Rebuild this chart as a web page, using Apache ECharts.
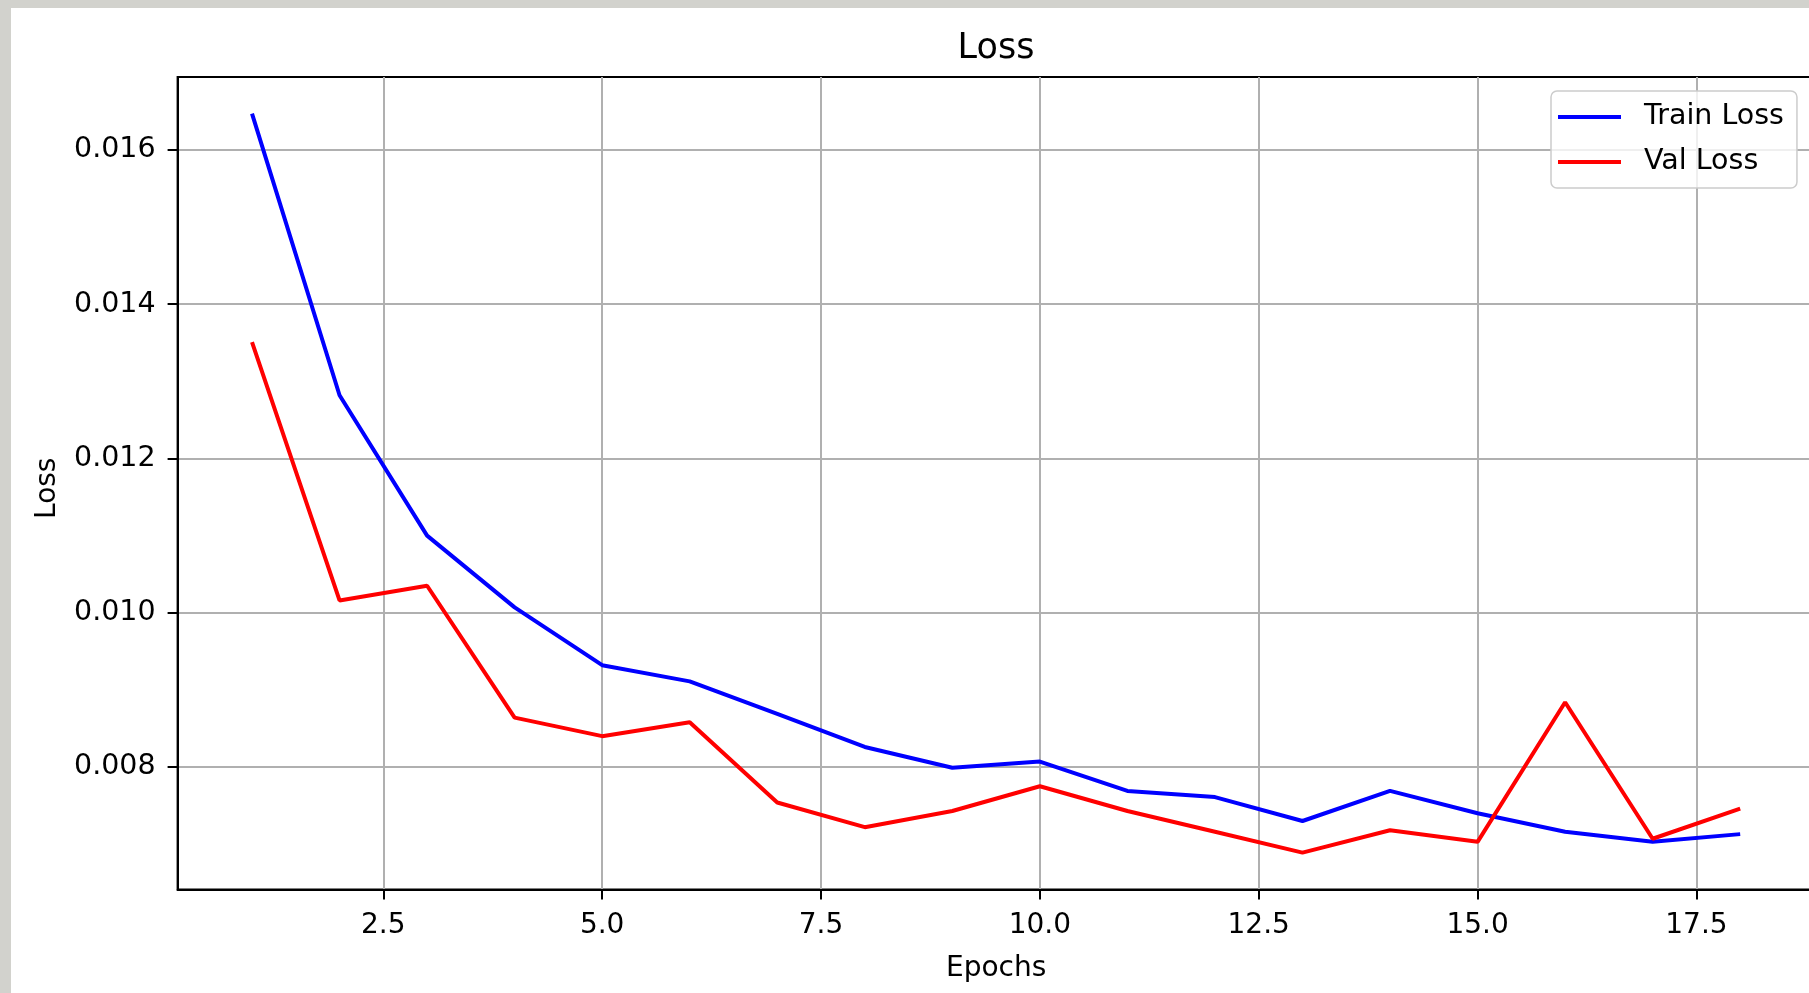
<!DOCTYPE html>
<html>
<head>
<meta charset="utf-8">
<title>Loss</title>
<script src="https://cdn.jsdelivr.net/npm/echarts@6.0.0/dist/echarts.min.js"></script>
<style>
    body { margin: 0; background: #d2d2cd; }
    #loss_chart { position: absolute; left: 11px; top: 8px; width: 1798px; height: 985px; background: #fff; }
</style>
</head>
<body>
<div id="loss_chart"></div>
<script>
var epochs = [1, 2, 3, 4, 5, 6, 7, 8, 9, 10, 11, 12, 13, 14, 15, 16, 17, 18];
var train_loss = [0.01647, 0.01282, 0.01100, 0.01007, 0.00932, 0.00911, 0.00869, 0.00826, 0.00799,
    0.00807, 0.00769, 0.00761, 0.00730, 0.00769, 0.00740, 0.00716, 0.00703, 0.00713];
var val_loss = [0.01351, 0.01016, 0.01035, 0.00864, 0.00840, 0.00858, 0.00754, 0.00722, 0.00743,
    0.00775, 0.00743, 0.00716, 0.00689, 0.00718, 0.00703, 0.00884, 0.00707, 0.00746];
var x_ticks = [2.5, 5.0, 7.5, 10.0, 12.5, 15.0, 17.5];
var y_ticks = [0.008, 0.010, 0.012, 0.014, 0.016];

var font = 'DejaVu Sans';

function pairs(xs, ys) {
    var out = [];
    for (var i = 0; i < xs.length; ++i) out.push([xs[i], ys[i]]);
    return out;
}

var loss_chart_option = {
    animation: false,
    title: {
        text: 'Loss',
        left: 985,
        top: 23,
        padding: 0,
        textAlign: 'center',
        textStyle: { fontFamily: font, fontSize: 35, fontWeight: 'normal', color: '#000' }
    },
    legend: {
        orient: 'vertical',
        left: 1540,
        top: 83,
        padding: [11, 13, 11, 7],
        itemGap: 15,
        itemWidth: 63,
        itemHeight: 4,
        icon: 'rect',
        backgroundColor: 'rgba(255,255,255,0.8)',
        borderColor: '#cccccc',
        borderWidth: 1.5,
        borderRadius: 6,
        textStyle: { fontFamily: font, fontSize: 28.5, lineHeight: 30, color: '#000', padding: [0, 0, 0, 18] },
        data: ['Train Loss', 'Val Loss']
    },
    grid: {
        left: 166.6,
        top: 69,
        width: 1637,
        height: 812.5,
        containLabel: false,
        outerBoundsMode: 'none',
        show: true,
        borderColor: '#000',
        borderWidth: 2,
        backgroundColor: 'transparent'
    },
    xAxis: {
        type: 'value',
        min: 0.15,
        max: 18.85,
        name: 'Epochs',
        nameLocation: 'middle',
        nameGap: 65,
        nameTextStyle: { fontFamily: font, fontSize: 28, color: '#000' },
        axisLine: { show: true, onZero: false, lineStyle: { color: '#000', width: 2 } },
        axisTick: { show: true, length: 10, lineStyle: { color: '#000', width: 2 }, customValues: x_ticks },
        axisLabel: {
            margin: 22,
            fontFamily: font, fontSize: 28, color: '#000',
            customValues: x_ticks,
            formatter: function (v) { return v.toFixed(1); }
        },
        splitLine: { show: true, lineStyle: { color: '#b0b0b0', width: 2 } }
    },
    yAxis: {
        type: 'value',
        min: 0.006412,
        max: 0.016946,
        name: 'Loss',
        nameLocation: 'middle',
        nameGap: 116,
        nameRotate: 90,
        nameTextStyle: { fontFamily: font, fontSize: 28, color: '#000', padding: [0, 10, 0, 0] },
        axisLine: { show: true, onZero: false, lineStyle: { color: '#000', width: 2 } },
        axisTick: { show: true, length: 10, lineStyle: { color: '#000', width: 2 }, customValues: y_ticks },
        axisLabel: {
            margin: 22,
            padding: [8, 0, 0, 0],
            fontFamily: font, fontSize: 28.5, color: '#000',
            customValues: y_ticks,
            formatter: function (v) { return v.toFixed(3); }
        },
        splitLine: { show: true, lineStyle: { color: '#b0b0b0', width: 2 } }
    },
    series: [
        {
            name: 'Train Loss',
            type: 'line',
            showSymbol: false,
            color: '#0000ff',
            lineStyle: { color: '#0000ff', width: 4 },
            data: pairs(epochs, train_loss)
        },
        {
            name: 'Val Loss',
            type: 'line',
            showSymbol: false,
            color: '#ff0000',
            lineStyle: { color: '#ff0000', width: 4 },
            data: pairs(epochs, val_loss)
        }
    ]
};

var loss_chart = echarts.init(document.getElementById('loss_chart'));
loss_chart.setOption(loss_chart_option);

window.onresize = function () {
    loss_chart.resize();
};
</script>
</body>
</html>
